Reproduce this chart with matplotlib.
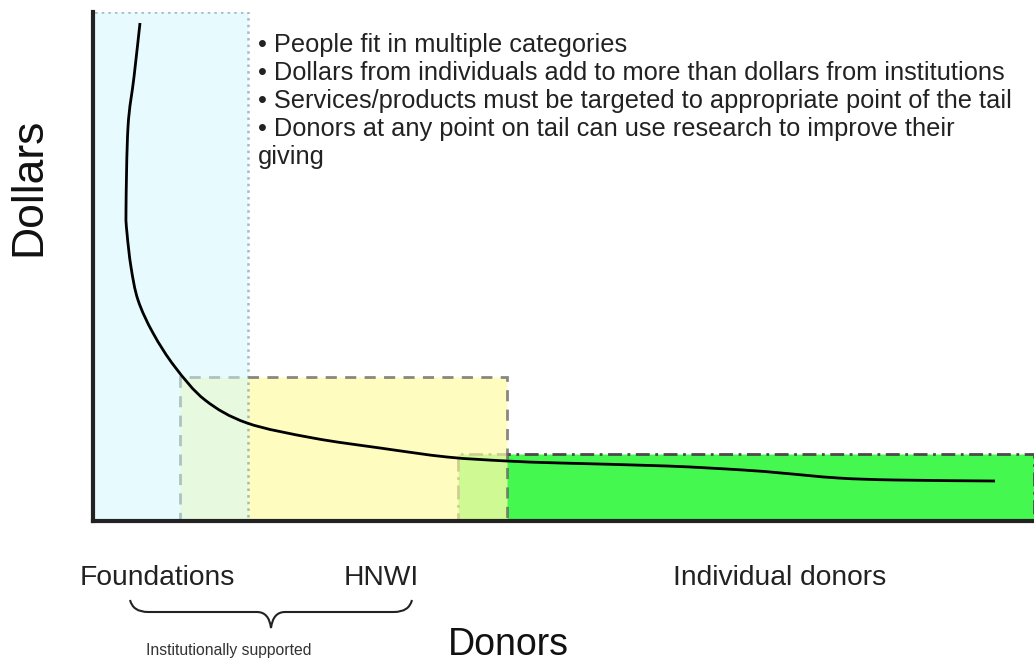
import matplotlib.pyplot as plt
from matplotlib.patches import Rectangle, PathPatch
from matplotlib.path import Path

plt.rcParams['font.family'] = ['Liberation Sans', 'DejaVu Sans']

# Long tail curve (donor rank vs dollars)
tail_x = [47, 41, 35, 33, 34, 38, 45, 60, 82, 112, 154, 220, 287, 354,
          414, 467, 574, 650, 688, 745, 802, 902]
tail_y = [498, 444, 394, 311, 288, 254, 221, 188, 154, 121, 98, 83, 73,
          64, 60, 58, 55, 51, 48, 43, 41, 40]

# Donor groups: (name, x start, x end, height)
groups = ['Foundations', 'HNWI', 'Individual donors']
group_x0 = [0, 87, 365]
group_x1 = [155, 414, 941]
group_top = [509, 144, 67]

notes = [
    '\u2022 People fit in multiple categories',
    '\u2022 Dollars from individuals add to more than dollars from institutions',
    '\u2022 Services/products must be targeted to appropriate point of the tail',
    '\u2022 Donors at any point on tail can use research to improve their\ngiving',
]


def smooth_path(xs, ys):
    # Catmull-Rom through the points, drawn as cubic Bezier segments
    pts = list(zip(xs, ys))
    verts = [pts[0]]
    codes = [Path.MOVETO]
    for i in range(len(pts) - 1):
        p0 = pts[i - 1] if i > 0 else pts[i]
        p1, p2 = pts[i], pts[i + 1]
        p3 = pts[i + 2] if i + 2 < len(pts) else pts[i + 1]
        c1 = (p1[0] + (p2[0] - p0[0]) / 6, p1[1] + (p2[1] - p0[1]) / 6)
        c2 = (p2[0] - (p3[0] - p1[0]) / 6, p2[1] - (p3[1] - p1[1]) / 6)
        verts += [c1, c2, p2]
        codes += [Path.CURVE4] * 3
    return Path(verts, codes)


fig = plt.figure(figsize=(10.34, 6.67), dpi=100)
ax = fig.add_axes([93 / 1034, 146 / 667, 941 / 1034, 509 / 667])
ax.set_xlim(0, 941)
ax.set_ylim(0, 509)

# boxes: green at the bottom, yellow and blue semi-transparent above
styles = [
    dict(facecolor=(210/255, 249/255, 1.0), alpha=0.52, edgecolor='#5f7f8c',
         linestyle=':', linewidth=1.8, zorder=3),
    dict(facecolor=(1.0, 251/255, 171/255), alpha=0.75, edgecolor='#606060',
         linestyle=(0, (4, 3)), linewidth=2.0, zorder=2),
    dict(facecolor='#44f850', alpha=1.0, edgecolor='#4a4a4a',
         linestyle=(0, (5, 2, 1, 2)), linewidth=2.0, zorder=1),
]
for x0, x1, top, st in zip(group_x0, group_x1, group_top, styles):
    ax.add_patch(Rectangle((x0, 0), x1 - x0, top, **st))

ax.add_patch(PathPatch(smooth_path(tail_x, tail_y), facecolor='none',
                       edgecolor='black', linewidth=2, zorder=5))

for side in ['top', 'right']:
    ax.spines[side].set_visible(False)
for side in ['left', 'bottom']:
    ax.spines[side].set_color('#222222')
    ax.spines[side].set_linewidth(3)
    ax.spines[side].set_zorder(6)
ax.set_xticks([])
ax.set_yticks([])

ax.text(165, 488, '\n'.join(notes), fontsize=18.3, color='#222222',
        va='top', ha='left', linespacing=1.21, zorder=7)

# group labels under the axis
label_x = [64, 288, 687]
for name, lx in zip(groups, label_x):
    ax.text(lx, -57, name, fontsize=20.3, color='#222222', ha='center',
            va='center', clip_on=False)

# curly brace under Foundations + HNWI
bx0, bx1, btop, bmid, bbot = 37, 319, -79, -91, -107
bm = (bx0 + bx1) / 2
verts = [(bx0, btop), (bx0 + 3, bmid), (bx0 + 18, bmid),
         (bm - 14, bmid), (bm - 2, bmid), (bm, bbot),
         (bm + 2, bmid), (bm + 14, bmid),
         (bx1 - 18, bmid), (bx1 - 3, bmid), (bx1, btop)]
codes = [Path.MOVETO, Path.CURVE3, Path.CURVE3,
         Path.LINETO, Path.CURVE3, Path.CURVE3,
         Path.CURVE3, Path.CURVE3,
         Path.LINETO, Path.CURVE3, Path.CURVE3]
ax.add_patch(PathPatch(Path(verts, codes), facecolor='none',
                       edgecolor='#222222', linewidth=1.5, clip_on=False))
ax.text(136, -129, 'Institutionally supported', fontsize=11.3,
        color='#333333', ha='center', va='center', clip_on=False)

ax.text(415, -124, 'Donors', fontsize=27, color='#111111', ha='center',
        va='center', clip_on=False)
fig.text(29 / 1034, 1 - 187 / 667, 'Dollars', fontsize=32, color='#111111',
         rotation=90, ha='center', va='center')

fig.savefig('out.png', dpi=100)
